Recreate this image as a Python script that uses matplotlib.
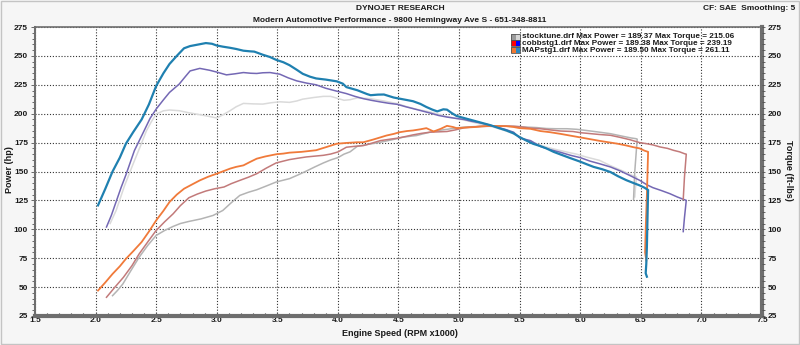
import matplotlib
matplotlib.use("Agg")
import matplotlib.pyplot as plt
from matplotlib.patches import Rectangle
from matplotlib.ticker import MultipleLocator

# stocktune.drf
stock_rpm_hp = [2.14, 2.18, 2.225, 2.29, 2.36, 2.43, 2.50, 2.57, 2.64, 2.70, 2.77, 2.87, 2.97, 3.05, 3.12, 3.19,
                3.26, 3.33, 3.41, 3.49, 3.55, 3.60, 3.67, 3.74, 3.81, 3.88, 3.94, 4.00, 4.05, 4.10, 4.16, 4.25,
                4.35, 4.45, 4.54, 4.60, 4.65, 4.70, 4.76, 4.83, 4.90, 4.97, 5.04, 5.12, 5.20, 5.28, 5.36, 5.44,
                5.50, 5.56, 5.64, 5.72, 5.80, 5.89, 5.97, 6.05, 6.16, 6.25, 6.35, 6.42, 6.46, 6.47, 6.45, 6.44]
stock_hp = [42.6, 47, 52.7, 64, 75.9, 86, 94.7, 99, 102.5, 105, 106.8, 109, 112, 116.3, 123, 129.3,
            132, 134.2, 137.5, 140.9, 142.5, 143.8, 147, 150.4, 154, 157.4, 160, 162, 165, 167, 171.8, 173.5,
            175.3, 177.5, 179.7, 180.5, 181.1, 182.5, 184, 185.5, 186.5, 187.5, 188.4, 188.8, 189.2, 189.4, 189.3, 189,
            188.8, 188.4, 188, 187.2, 187, 187, 186.5, 185.5, 184, 182.7, 180.5, 179, 178.4, 178, 150, 126]
stock_rpm_tq = [2.12, 2.17, 2.24, 2.31, 2.37, 2.42, 2.46, 2.50, 2.56, 2.61, 2.69, 2.76, 2.83, 2.92, 3.00, 3.05,
                3.11, 3.16, 3.22, 3.30, 3.38, 3.45, 3.52, 3.60, 3.66, 3.71, 3.80, 3.88, 3.94, 3.99, 4.05, 4.10,
                4.16, 4.27, 4.38, 4.49, 4.57, 4.65, 4.76, 4.83, 4.90, 4.97, 5.04, 5.12, 5.20, 5.28, 5.36, 5.44,
                5.50, 5.56, 5.64, 5.72, 5.80, 5.89, 5.97, 6.05, 6.16, 6.25, 6.35, 6.42, 6.46, 6.465, 6.455, 6.45]
stock_tq = [105, 116.4, 138, 156.6, 172, 185.3, 193, 199.7, 202.5, 203.2, 202.6, 201, 199.7, 198, 196.3, 199,
            202.6, 206, 208.9, 208.5, 208.3, 209.5, 210.3, 209.8, 211, 212.6, 214, 215, 215, 213.5, 211.6, 212.1,
            213.7, 213, 211, 208.7, 206, 203.8, 201.5, 199.5, 197.5, 196, 194.5, 192.5, 190.5, 188.5, 186, 183,
            180, 176.9, 174, 171.1, 169, 166.8, 165, 162.5, 159.6, 155, 150.5, 147, 145.5, 145, 135, 128]

# cobbstg1.drf
cobb_rpm_hp = [2.09, 2.16, 2.23, 2.30, 2.36, 2.43, 2.50, 2.57, 2.64, 2.70, 2.77, 2.84, 2.91, 2.98, 3.06, 3.12,
               3.19, 3.26, 3.33, 3.41, 3.49, 3.55, 3.60, 3.67, 3.74, 3.81, 3.88, 3.94, 4.00, 4.07, 4.14, 4.21,
               4.28, 4.35, 4.42, 4.49, 4.56, 4.62, 4.69, 4.76, 4.83, 4.90, 4.97, 5.04, 5.10, 5.17, 5.24, 5.31,
               5.38, 5.45, 5.52, 5.59, 5.67, 5.75, 5.84, 5.94, 6.00, 6.08, 6.16, 6.25, 6.33, 6.41, 6.49, 6.55,
               6.60, 6.66, 6.72, 6.77, 6.82, 6.86, 6.875, 6.86, 6.85]
cobb_hp = [41.2, 50, 58.5, 68.5, 78.8, 89, 99, 106.5, 113.4, 120.5, 127.3, 130.5, 133.1, 135, 136.6, 139.5,
           142.3, 145, 148.1, 153, 157.4, 159, 160.3, 161.5, 162.6, 163.3, 164, 165.1, 166.9, 171, 171.8, 172.4,
           174.5, 176.7, 177.8, 178.8, 180.3, 181.7, 183, 184, 184.3, 184.6, 186, 187.8, 188.4, 189, 189.1, 189.2,
           189.3, 189.2, 188.5, 187.5, 187, 186, 185, 184.6, 183.6, 182.8, 182, 181.3, 179.5, 177.5, 175, 174,
           173, 171.2, 170, 168.3, 167, 165.4, 165, 145, 126]
cobb_rpm_tq = [2.09, 2.13, 2.17, 2.21, 2.25, 2.32, 2.39, 2.45, 2.50, 2.56, 2.61, 2.69, 2.74, 2.78, 2.86, 2.94,
               3.00, 3.08, 3.15, 3.22, 3.28, 3.33, 3.38, 3.44, 3.52, 3.59, 3.66, 3.74, 3.82, 3.90, 3.99, 4.07,
               4.14, 4.21, 4.28, 4.35, 4.42, 4.49, 4.56, 4.62, 4.69, 4.76, 4.83, 4.90, 4.97, 5.04, 5.10, 5.17,
               5.24, 5.31, 5.38, 5.45, 5.50, 5.59, 5.67, 5.75, 5.83, 5.92, 6.00, 6.08, 6.16, 6.25, 6.33, 6.41,
               6.49, 6.55, 6.60, 6.67, 6.74, 6.80, 6.86, 6.875, 6.86, 6.85]
cobb_tq = [102, 112, 124, 136, 147, 168, 183, 196, 204, 212, 218.4, 225.6, 232, 237, 239.2, 237.6,
           236, 233.6, 234.5, 235.6, 235, 234.8, 235.4, 235.6, 234.2, 231, 228.4, 226.5, 225, 222, 219.5, 217.4,
           215, 213, 211.5, 210.2, 209, 208.1, 206, 204.4, 202.5, 200.6, 198.5, 197.1, 196, 195, 193.5, 192.2,
           190.5, 188.4, 186.5, 184, 179, 176.7, 171.7, 169, 166.8, 164, 162, 159, 156.7, 153.9, 150.5, 146.5,
           142.4, 138.5, 136, 133.5, 130.8, 128, 125.6, 125, 110, 98]

# MAPstg1.drf
map_rpm_hp = [2.02, 2.08, 2.14, 2.20, 2.25, 2.31, 2.38, 2.44, 2.50, 2.56, 2.61, 2.67, 2.73, 2.80, 2.86, 2.93,
              3.00, 3.06, 3.11, 3.16, 3.22, 3.27, 3.33, 3.40, 3.49, 3.55, 3.60, 3.70, 3.82, 3.90, 3.99, 4.07,
              4.16, 4.21, 4.29, 4.35, 4.40, 4.46, 4.51, 4.57, 4.62, 4.68, 4.73, 4.79, 4.85, 4.90, 4.95, 4.98,
              5.05, 5.12, 5.19, 5.26, 5.33, 5.39, 5.45, 5.50, 5.59, 5.67, 5.75, 5.84, 5.92, 6.00, 6.08, 6.16,
              6.25, 6.31, 6.38, 6.44, 6.49, 6.53, 6.56, 6.55, 6.54, 6.535, 6.545]
map_hp = [47, 54, 61.4, 68, 74.4, 81, 89, 98, 107.7, 116, 123.6, 130, 135.1, 139, 142.3, 145.5,
          148.1, 150.5, 152.5, 154, 155.3, 158, 161.1, 163, 164.9, 165.5, 166.3, 167, 168.4, 171, 174, 174.7,
          175.3, 175.3, 177.6, 179.5, 181.1, 182.5, 184, 185, 185.5, 186.5, 187.5, 184.6, 187, 189.5, 188.5, 187.5,
          188, 188.4, 189, 189.5, 189.3, 189.2, 188.5, 187.5, 186.9, 185, 184, 182.5, 181, 179.5, 178, 176.5,
          175, 174, 172.5, 171, 170, 168, 167, 130, 100, 80, 73]
map_rpm_tq = [2.02, 2.08, 2.14, 2.20, 2.25, 2.31, 2.38, 2.44, 2.50, 2.56, 2.61, 2.67, 2.73, 2.78, 2.83, 2.91,
              2.96, 3.00, 3.05, 3.11, 3.16, 3.22, 3.27, 3.31, 3.38, 3.44, 3.49, 3.55, 3.60, 3.66, 3.71, 3.77,
              3.82, 3.90, 3.99, 4.04, 4.07, 4.16, 4.24, 4.27, 4.33, 4.38, 4.46, 4.51, 4.56, 4.62, 4.68, 4.73,
              4.78, 4.82, 4.87, 4.90, 4.94, 4.98, 5.05, 5.12, 5.19, 5.26, 5.33, 5.39, 5.45, 5.50, 5.56, 5.61,
              5.67, 5.72, 5.78, 5.83, 5.92, 6.00, 6.06, 6.11, 6.18, 6.25, 6.31, 6.38, 6.44, 6.49, 6.53, 6.56,
              6.555, 6.55, 6.545, 6.54, 6.55]
map_tq = [120.7, 135, 150, 162, 174, 184, 195, 208, 224, 235, 243, 250, 256.6, 258.5, 259.5, 261.1,
          260.5, 259, 258, 257, 256, 254.5, 254, 253.7, 251, 249, 246.6, 244.5, 242, 238, 234.5, 232,
          230.5, 229.5, 228, 226, 223, 220.3, 217, 216, 216.5, 216.6, 214, 213, 212, 210.8, 208.5, 205.8,
          203.5, 202, 203.8, 203.5, 200.5, 198, 196, 194, 192, 190, 187.5, 185.5, 183, 179.7, 176.5, 174,
          172, 170, 167, 165, 161.5, 158.5, 156, 154, 152, 149.5, 146, 142.5, 140, 138, 136, 134,
          110, 85, 70, 62, 59]

runs = ['stocktune.drf', 'cobbstg1.drf', 'MAPstg1.drf']
max_power = [189.37, 189.38, 189.50]
max_torque = [215.06, 239.19, 261.11]
swatch_colors = [('#9a9a9a', '#d6d6d6'), ('#ff0000', '#0000ff'), ('#f07830', '#2a88c0')]

FONT = 'Liberation Sans'
TXT = '#1a1a1a'

fig = plt.figure(figsize=(8, 3.45), dpi=100, facecolor='#f6f6f6')
ax = fig.add_axes([35 / 800, 1 - 316 / 345, 727 / 800, 289 / 345])
ax.set_facecolor('white')

# stock first, MAP on top
ax.plot(stock_rpm_tq, stock_tq, color='#dadada', lw=1.1, zorder=3)
ax.plot(stock_rpm_hp, stock_hp, color='#b4b4b4', lw=1.1, zorder=3)
ax.plot(cobb_rpm_tq, cobb_tq, color='#7468b4', lw=1.1, zorder=4)
ax.plot(cobb_rpm_hp, cobb_hp, color='#c27a7a', lw=1.1, zorder=4)
ax.plot(map_rpm_hp, map_hp, color='#f07a3a', lw=1.3, zorder=5)
ax.plot(map_rpm_tq, map_tq, color='#1f80b0', lw=1.6, zorder=6)

ax.set_xlim(1.5, 7.5)
ax.set_ylim(25, 275)
ax.xaxis.set_major_locator(MultipleLocator(0.5))
ax.xaxis.set_minor_locator(MultipleLocator(0.1))
ax.yaxis.set_major_locator(MultipleLocator(25))
ax.yaxis.set_minor_locator(MultipleLocator(5))
ax.grid(True, which='major', linestyle=(0, (1, 1.6)), color='#333333', lw=0.8, zorder=1)

for side, w in [('left', 1.5), ('top', 1.2), ('bottom', 3.0), ('right', 3.0)]:
    ax.spines[side].set_color('#6e6e6e')
    ax.spines[side].set_linewidth(w)

ax.tick_params(axis='x', which='both', direction='in', color='#303030', length=2.5, width=0.8,
               labelsize=6, pad=1, labelcolor=TXT)
ax.tick_params(axis='y', which='both', direction='out', color='#505050', length=2, width=0.6,
               labelsize=6, pad=2, labelcolor=TXT)
ax.tick_params(axis='y', which='major', length=3)
ax.set_xticklabels([f'{v:.1f}' for v in ax.get_xticks()], fontweight='bold', family=FONT)
ax.set_yticks(ax.get_yticks())
ax.set_yticklabels([f'{int(v)}' for v in ax.get_yticks()], fontweight='bold', family=FONT)
ax.set_ylim(25, 275)

ax2 = ax.twinx()
ax2.set_ylim(25, 275)
ax2.yaxis.set_major_locator(MultipleLocator(25))
ax2.yaxis.set_minor_locator(MultipleLocator(5))
ax2.tick_params(axis='y', which='both', direction='out', color='#505050', length=2, width=0.6,
                labelsize=6, pad=2, labelcolor=TXT)
ax2.set_yticks(ax2.get_yticks())
ax2.set_yticklabels([f'{int(v)}' for v in ax2.get_yticks()], fontweight='bold', family=FONT)
ax2.set_ylim(25, 275)
for s in ax2.spines.values():
    s.set_visible(False)

# header
fig.text(0.5, 1 - 8 / 345, 'DYNOJET RESEARCH', ha='center', va='center', fontsize=6,
         fontweight='bold', family=FONT, color=TXT)
fig.text(0.5, 1 - 20 / 345, 'Modern Automotive Performance - 9800 Hemingway Ave S - 651-348-8811',
         ha='center', va='center', fontsize=6, fontweight='bold', family=FONT, color=TXT)
fig.text(795 / 800, 1 - 8 / 345, 'CF: SAE  Smoothing: 5', ha='right', va='center', fontsize=6,
         fontweight='bold', family=FONT, color=TXT)

# axis titles
fig.text(10 / 800, 1 - 170 / 345, 'Power (hp)', rotation=90, ha='center', va='center', fontsize=6.5,
         fontweight='bold', family=FONT, color=TXT)
fig.text(788 / 800, 1 - 170 / 345, 'Torque (ft-lbs)', rotation=270, ha='center', va='center', fontsize=6.5,
         fontweight='bold', family=FONT, color=TXT)
fig.text(0.5, 1 - 334 / 345, 'Engine Speed (RPM x1000)', ha='center', va='center', fontsize=6.5,
         fontweight='bold', family=FONT, color=TXT)

# legend rows
row_y = [36.7, 43.4, 50.1]
for i, name in enumerate(runs):
    yc = 1 - row_y[i] / 345
    h = 6 / 345
    c1, c2 = swatch_colors[i]
    fig.patches.append(Rectangle((511 / 800, yc - h / 2), 4.5 / 800, h, transform=fig.transFigure,
                                 facecolor=c1, edgecolor='none', zorder=10))
    fig.patches.append(Rectangle((515.5 / 800, yc - h / 2), 4.5 / 800, h, transform=fig.transFigure,
                                 facecolor=c2, edgecolor='none', zorder=10))
    fig.patches.append(Rectangle((511 / 800, yc - h / 2), 9 / 800, h, transform=fig.transFigure,
                                 facecolor='none', edgecolor='#555555', lw=0.6, zorder=11))
    fig.text(521.5 / 800, yc, f'{name} Max Power = {max_power[i]:.2f} Max Torque = {max_torque[i]:.2f}',
             ha='left', va='center', fontsize=5.9, fontweight='bold', family=FONT, color=TXT, zorder=12)

# outer frame
fig.patches.append(Rectangle((0.001, 0.003), 0.998, 0.995, transform=fig.transFigure,
                             facecolor='none', edgecolor='#c4c4c4', lw=1.0))

fig.savefig('out.png', dpi=100, facecolor=fig.get_facecolor())
